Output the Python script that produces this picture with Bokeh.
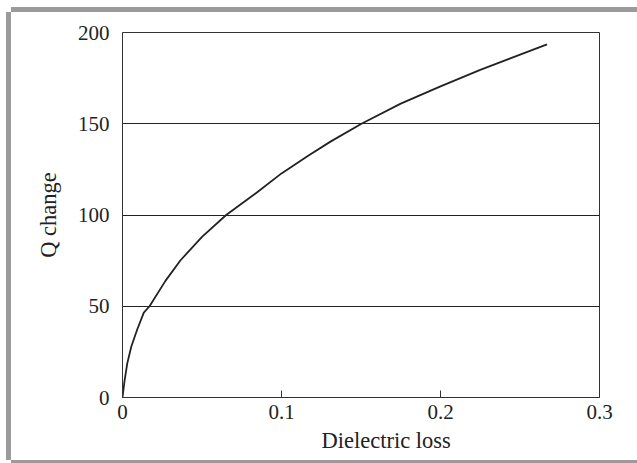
from bokeh.plotting import figure
from bokeh.models import Title, FixedTicker, Range1d, InlineStyleSheet
from bokeh.embed import file_html
from bokeh.resources import INLINE

# Data
dielectric_loss = [0.0, 0.0013, 0.003, 0.0055, 0.0092, 0.0134, 0.017, 0.027,
                   0.0365, 0.05, 0.0652, 0.0847, 0.1, 0.117, 0.1308, 0.1503,
                   0.175, 0.200, 0.225, 0.267]
q_change = [0.0, 9.3, 18.7, 27.8, 37.1, 46.5, 50.0, 63.9,
            75.2, 88.0, 100.0, 112.5, 122.8, 132.6, 140.2, 150.0,
            161.0, 170.5, 179.5, 193.5]

x_ticks = [0, 0.1, 0.2, 0.3]
y_ticks = [0, 50, 100, 150, 200]
x_label = "Dielectric loss"
y_label = "Q change"

FONT = "Liberation Serif"
DARK = "#222222"
GRAY = "#9b9b9b"
shadow = f"-5px 0 0 0 {GRAY}, 0 -5px 0 0 {GRAY}, 0 5px 0 0 {GRAY}"
frame_css = InlineStyleSheet(css=":host { box-shadow: %s; }" % shadow)

p = figure(width=626, height=448, output_backend="svg", toolbar_location=None,
           x_range=Range1d(0, 0.3), y_range=Range1d(0, 200),
           min_border_left=111, min_border_right=38,
           min_border_top=20, min_border_bottom=63,
           margin=(12, 0, 0, 11),
           stylesheets=[frame_css])
p.background_fill_color = "white"
p.border_fill_color = "white"
p.outline_line_color = "#333333"
p.outline_line_width = 1

p.line(dielectric_loss, q_change, line_color=DARK, line_width=1.8)

# axes
p.xaxis.ticker = FixedTicker(ticks=x_ticks)
p.yaxis.ticker = FixedTicker(ticks=y_ticks)
p.xaxis.major_label_overrides = {0: "0", 0.1: "0.1", 0.2: "0.2", 0.3: "0.3"}
for ax in (p.xaxis, p.yaxis):
    ax.axis_line_color = "#333333"
    ax.major_tick_line_color = "#333333"
    ax.minor_tick_line_color = None
    ax.major_tick_out = 0
    ax.major_label_text_font = FONT
    ax.major_label_text_font_size = "21px"
    ax.major_label_text_color = DARK
    ax.axis_label_text_font = FONT
    ax.axis_label_text_font_size = "22.5px"
    ax.axis_label_text_font_style = "normal"
    ax.axis_label_text_color = DARK
p.xaxis.major_tick_in = 7
p.yaxis.major_tick_in = 0
p.yaxis.major_label_standoff = 13
p.xaxis.major_label_standoff = 7
p.yaxis.axis_label = y_label
p.yaxis.axis_label_standoff = 14

p.xgrid.grid_line_color = None
p.ygrid.grid_line_color = DARK
p.ygrid.grid_line_width = 1

# x-axis label, offset to the right as in the reference
p.add_layout(Title(text=x_label, align="left", offset=199, text_font=FONT,
                   text_font_size="22.5px", text_font_style="normal",
                   text_color=DARK, standoff=8), "below")

open("out.html", "w").write(file_html(p, INLINE))
